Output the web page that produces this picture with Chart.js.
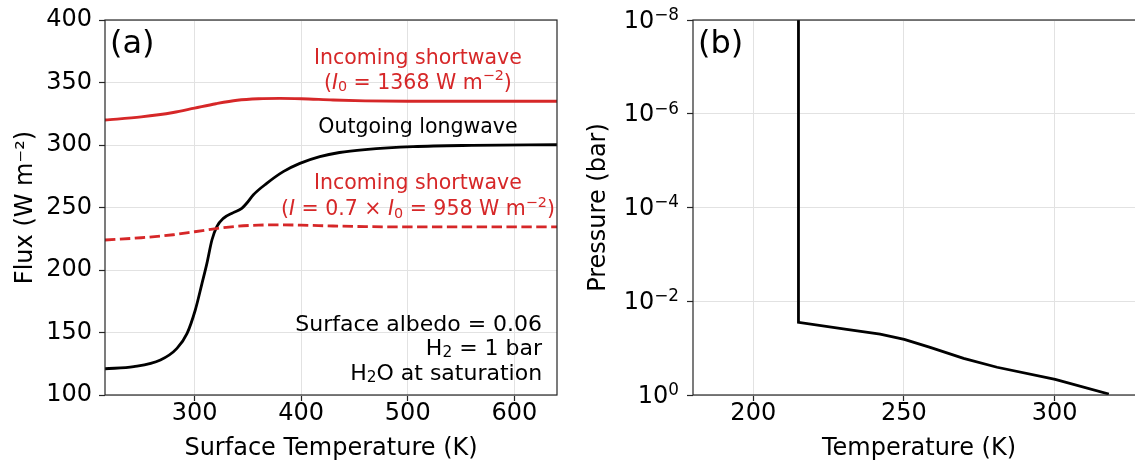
<!DOCTYPE html>
<html>
<head>
<meta charset="utf-8">
<script src="https://cdn.jsdelivr.net/npm/chart.js@4.4.1/dist/chart.umd.min.js"></script>
<style>
html, body { margin: 0; padding: 0; background: #fff; width: 1135px; height: 461px; overflow: hidden; }
#wrap { position: relative; width: 1135px; height: 461px; overflow: hidden; }
#fluxChart { position: absolute; left: 0; top: 0; }
#profileChart { position: absolute; left: 570px; top: 0; }
</style>
</head>
<body>
<div id="wrap">
<canvas id="fluxChart" width="570" height="461"></canvas>
<canvas id="profileChart" width="640" height="461"></canvas>
</div>
<script>
// panel (a): fluxes vs surface temperature
var olrTemp = [216, 243, 268, 283.5, 293, 300.7, 307, 311.6, 316.3, 320.9, 327, 336.4, 344.3, 349.5, 355, 367.7, 383.2, 398.8, 417.5, 436, 460, 505, 560, 640];
var olrFlux = [121, 122.7, 128, 137.3, 149.3, 168, 189.3, 205.3, 224, 234.7, 241.3, 245.9, 249.3, 254, 260, 269.3, 278.7, 285.3, 290.7, 294, 296.3, 298.7, 299.7, 300.2];
var swTemp = [216, 250, 280, 300, 320, 340, 360, 380, 400, 430, 460, 500, 560, 640];
var swFlux = [320, 322.5, 326, 329.5, 333, 335.8, 337, 337.3, 337, 336, 335.3, 335, 335, 335];
var swReducedFlux = [224, 225.8, 228.2, 230.6, 233.1, 235, 235.9, 236.1, 235.9, 235.2, 234.7, 234.5, 234.5, 234.5];
var fluxTicks = [100, 150, 200, 250, 300, 350, 400];
var surfTempTicks = [300, 400, 500, 600];

// panel (b): temperature profile
var profileTemp = [215, 215, 231, 242.1, 250.1, 258.7, 269.8, 280.9, 300.2, 318];
var profilePres = [1e-8, 0.0281, 0.0397, 0.05, 0.0649, 0.0962, 0.165, 0.256, 0.462, 0.953];
var tempTicks = [200, 250, 300];
var presTicks = [1e-8, 1e-6, 1e-4, 1e-2, 1];
var presExponents = ['−8', '−6', '−4', '−2', '0'];

var RED = '#d62728';
var GRID = '#e2e2e2';
var AXIS = '#262626';
var FONT = "'DejaVu Sans', sans-serif";

function pts(xs, ys) {
    return xs.map(function (x, i) { return { x: x, y: ys[i] }; });
}

function fixedTicks(values) {
    return function (scale) {
        scale.ticks = values.map(function (v) { return { value: v }; });
    };
}

// a run is [text, italic, sizeFactor, yShift]
function runFont(r, size) {
    return (r[1] ? 'italic ' : '') + (size * (r[2] || 1)) + 'px ' + FONT;
}

function drawRuns(ctx, runs, x, y, size, align) {
    var widths = runs.map(function (r) {
        ctx.font = runFont(r, size);
        return ctx.measureText(r[0]).width;
    });
    var total = widths.reduce(function (s, w) { return s + w; }, 0);
    var cx = align === 'right' ? x - total : x - total / 2;
    ctx.textAlign = 'left';
    ctx.textBaseline = 'middle';
    runs.forEach(function (r, i) {
        ctx.font = runFont(r, size);
        ctx.fillText(r[0], cx, y + (r[3] || 0));
        cx += widths[i];
    });
}

var framePlugin = {
    id: 'frame',
    afterDatasetsDraw: function (chart, args, opts) {
        var a = chart.chartArea, ctx = chart.ctx;
        ctx.save();
        ctx.strokeStyle = AXIS;
        ctx.lineWidth = 1.2;
        ctx.strokeRect(a.left, a.top, a.right - a.left, a.bottom - a.top);
        ctx.fillStyle = '#000';
        ctx.font = '32px ' + FONT;
        ctx.textAlign = 'left';
        ctx.textBaseline = 'alphabetic';
        ctx.fillText(opts.label, a.left + 5, a.top + 33);
        ctx.restore();
    }
};

function axisStyle(title, titlePad, tickPad) {
    return {
        grid: { color: GRID, lineWidth: 1, tickColor: AXIS, tickLength: 6, tickWidth: 1.2 },
        border: { display: false },
        ticks: { color: '#000', font: { family: FONT, size: 24, lineHeight: 1 }, padding: tickPad, maxRotation: 0, autoSkip: false },
        title: { display: true, text: title, color: '#000', font: { family: FONT, size: 24, lineHeight: 1 }, padding: titlePad }
    };
}

// Flux_Chart
var fluxNotes = {
    id: 'fluxNotes',
    afterDatasetsDraw: function (chart) {
        var ctx = chart.ctx, sx = chart.scales.x, sy = chart.scales.y;
        var cx = sx.getPixelForValue(509.5);
        ctx.save();
        ctx.fillStyle = RED;
        drawRuns(ctx, [['Incoming shortwave']], cx, sy.getPixelForValue(369.4), 20.5);
        drawRuns(ctx, [['('], ['I', true], ['0', false, 0.7, 4], [' = 1368 W m'], ['−2', false, 0.7, -7], [')']],
            cx, sy.getPixelForValue(349.4), 20.5);
        drawRuns(ctx, [['Incoming shortwave']], cx, sy.getPixelForValue(268.8), 20.5);
        drawRuns(ctx, [['('], ['I', true], [' = 0.7 × '], ['I', true], ['0', false, 0.7, 4], [' = 958 W m'], ['−2', false, 0.7, -7], [')']],
            cx, sy.getPixelForValue(248), 20.5);
        ctx.fillStyle = '#000';
        drawRuns(ctx, [['Outgoing longwave']], cx, sy.getPixelForValue(314.2), 20.5);
        var rx = sx.getPixelForValue(626);
        drawRuns(ctx, [['Surface albedo = 0.06']], rx, sy.getPixelForValue(156), 22, 'right');
        drawRuns(ctx, [['H'], ['2', false, 0.7, 4], [' = 1 bar']], rx, sy.getPixelForValue(136.6), 22, 'right');
        drawRuns(ctx, [['H'], ['2', false, 0.7, 4], ['O at saturation']], rx, sy.getPixelForValue(116.8), 22, 'right');
        ctx.restore();
    }
};

var fluxX = axisStyle('Surface Temperature (K)', { top: 0, bottom: 0 }, 1);
fluxX.type = 'linear';
fluxX.min = 216;
fluxX.max = 640;
fluxX.afterBuildTicks = fixedTicks(surfTempTicks);
fluxX.afterFit = function (s) { s.height = 66; };

var fluxY = axisStyle('Flux (W m⁻²)', { top: 14, bottom: 0 }, 7);
fluxY.min = 100;
fluxY.max = 400;
fluxY.afterBuildTicks = fixedTicks(fluxTicks);
fluxY.afterFit = function (s) { s.width = 105; };

var Flux_Chart = new Chart(document.getElementById('fluxChart'), {
    type: 'line',
    data: {
        datasets: [
            { data: pts(swTemp, swFlux), borderColor: RED, borderWidth: 2.8 },
            { data: pts(swTemp, swReducedFlux), borderColor: RED, borderWidth: 2.8, borderDash: [10.4, 4.5] },
            { data: pts(olrTemp, olrFlux), borderColor: '#000', borderWidth: 2.8 }
        ]
    },
    options: {
        responsive: false,
        animation: false,
        parsing: false,
        layout: { padding: { top: 20, right: 13, left: 0, bottom: 0 } },
        elements: { point: { radius: 0 }, line: { cubicInterpolationMode: 'monotone', fill: false } },
        plugins: { legend: { display: false }, tooltip: { enabled: false }, frame: { label: '(a)' } },
        scales: { x: fluxX, y: fluxY }
    },
    plugins: [framePlugin, fluxNotes]
});

// Profile_Chart: log tick labels drawn with a raised exponent
var presLabels = {
    id: 'presLabels',
    afterDraw: function (chart) {
        var ctx = chart.ctx, sy = chart.scales.y;
        ctx.save();
        ctx.fillStyle = '#000';
        sy.ticks.forEach(function (t) {
            var i = presTicks.indexOf(t.value);
            if (i < 0) return;
            var y = sy.getPixelForValue(t.value);
            drawRuns(ctx, [['10', false, 1, 1.5], [presExponents[i], false, 0.7, -4.5]], sy.right - 14, y, 24, 'right');
        });
        ctx.restore();
    }
};

var profX = axisStyle('Temperature (K)', { top: 0, bottom: 0 }, 1);
profX.type = 'linear';
profX.min = 180;
profX.max = 330;
profX.afterBuildTicks = fixedTicks(tempTicks);
profX.afterFit = function (s) { s.height = 66; };

var profY = axisStyle('Pressure (bar)', { top: 17, bottom: 0 }, 8);
profY.type = 'logarithmic';
profY.reverse = true;
profY.min = 1e-8;
profY.max = 1;
profY.ticks.display = false;
profY.afterBuildTicks = fixedTicks(presTicks);
profY.afterFit = function (s) { s.width = 123; };

var Profile_Chart = new Chart(document.getElementById('profileChart'), {
    type: 'line',
    data: {
        datasets: [
            { data: pts(profileTemp, profilePres), borderColor: '#000', borderWidth: 2.8, tension: 0 }
        ]
    },
    options: {
        responsive: false,
        animation: false,
        parsing: false,
        layout: { padding: { top: 20, right: 65, left: 0, bottom: 0 } },
        elements: { point: { radius: 0 } },
        plugins: { legend: { display: false }, tooltip: { enabled: false }, frame: { label: '(b)' } },
        scales: { x: profX, y: profY }
    },
    plugins: [framePlugin, presLabels]
});
</script>
</body>
</html>
